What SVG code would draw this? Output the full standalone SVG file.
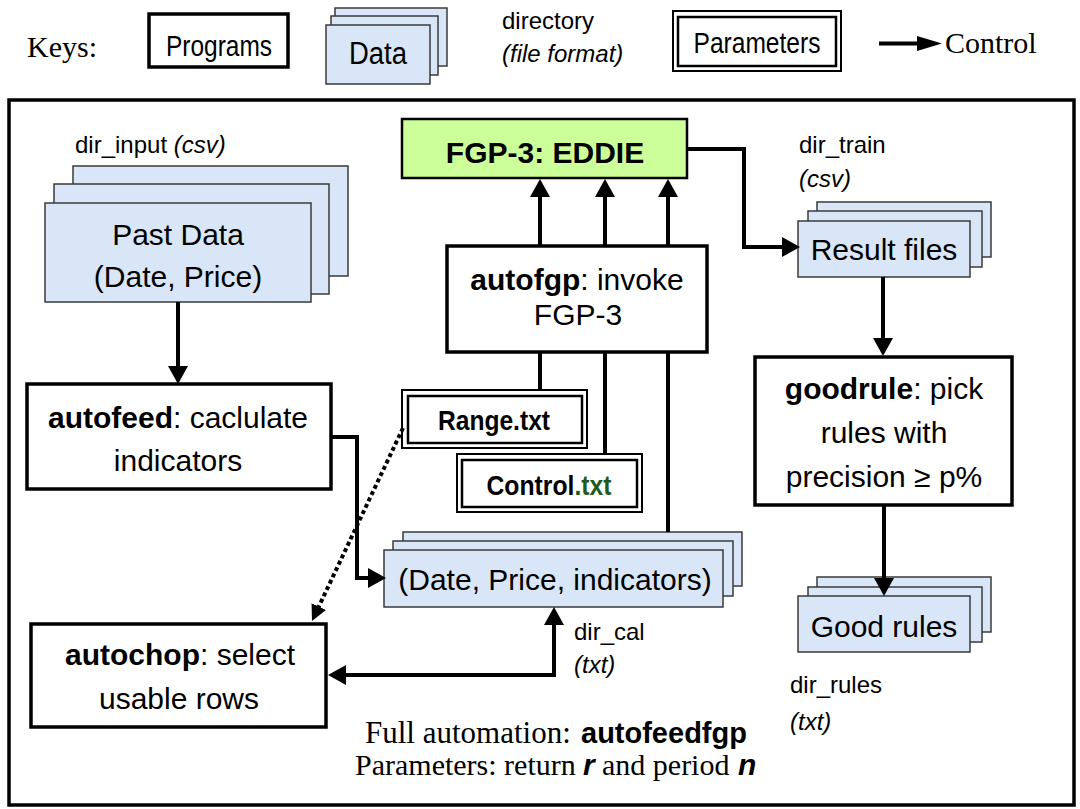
<svg xmlns="http://www.w3.org/2000/svg" width="1080" height="809" viewBox="0 0 1080 809">
<style>
  .sans { font-family: "Liberation Sans", Arial, sans-serif; }
  .serif { font-family: "Liberation Serif", "Times New Roman", serif; }
  .prog { fill: #ffffff; stroke: #000000; stroke-width: 3.5; }
  .data { fill: #d8e6f7; stroke: #3a3a3a; stroke-width: 1.5; }
  .pout { fill: #ffffff; stroke: #000000; stroke-width: 2; }
  .pin { fill: none; stroke: #000000; stroke-width: 2.5; }
  .conn { fill: none; stroke: #000000; stroke-width: 4; }
  .dot { fill: none; stroke: #000000; stroke-width: 4; stroke-dasharray: 4 3; }
  .lbl { font-size: 30px; fill: #000000; }
  .dir { font-size: 24px; fill: #000000; }
  .b { font-weight: bold; }
  .i { font-style: italic; }
</style>
<defs>
  <marker id="ah" viewBox="0 0 18 20" refX="8" refY="10" markerWidth="18" markerHeight="20" markerUnits="userSpaceOnUse" orient="auto-start-reverse">
    <path d="M0,0 L18,10 L0,20 Z" fill="#000000"/>
  </marker>
  <marker id="ahs" viewBox="0 0 16 16" refX="8" refY="8" markerWidth="16" markerHeight="16" markerUnits="userSpaceOnUse" orient="auto">
    <path d="M0,0 L16,8 L0,16 Z" fill="#000000"/>
  </marker>
</defs>
<rect width="1080" height="809" fill="#ffffff"/>

<g id="keys">
  <text class="serif" x="27" y="57" font-size="30">Keys:</text>
  <rect class="prog" x="149" y="14" width="139" height="53"/>
  <text class="sans lbl" x="219" y="56" text-anchor="middle" textLength="106" lengthAdjust="spacingAndGlyphs">Programs</text>
  <rect class="data" x="335" y="8" width="112" height="58"/>
  <rect class="data" x="331" y="16" width="107" height="59"/>
  <rect class="data" x="326" y="25" width="104" height="59"/>
  <text class="sans" x="378" y="64" font-size="31" text-anchor="middle" textLength="58" lengthAdjust="spacingAndGlyphs">Data</text>
  <text class="sans dir" x="502" y="29">directory</text>
  <text class="sans dir i" x="502" y="62">(file format)</text>
  <rect class="pout" x="673" y="11" width="168" height="60"/>
  <rect class="pin" x="678" y="17" width="158" height="49"/>
  <text class="sans lbl" x="757" y="53" text-anchor="middle" textLength="127" lengthAdjust="spacingAndGlyphs">Parameters</text>
  <line x1="879" y1="43.5" x2="920" y2="43.5" stroke="#000000" stroke-width="4"/>
  <polygon points="917,36 942,43.5 917,51" fill="#000000"/>
  <text class="serif" x="945" y="53" font-size="30">Control</text>
</g>

<rect id="frame" x="9" y="100" width="1065" height="705" fill="none" stroke="#000000" stroke-width="3.5"/>

<g id="past-data">
  <text class="sans dir" x="75" y="153" font-size="25">dir_input <tspan class="i">(csv)</tspan></text>
  <rect class="data" x="73" y="166" width="275" height="110"/>
  <rect class="data" x="54" y="184" width="275" height="110"/>
  <rect class="data" x="45" y="203" width="266" height="99"/>
  <text class="sans lbl" x="178" y="245" text-anchor="middle">Past Data</text>
  <text class="sans lbl" x="178" y="287" text-anchor="middle">(Date, Price)</text>
</g>

<g id="autofeed">
  <rect class="prog" x="27" y="384" width="304" height="105"/>
  <text class="sans lbl" x="178" y="428" text-anchor="middle"><tspan class="b">autofeed</tspan>: caclulate</text>
  <text class="sans lbl" x="178" y="471" text-anchor="middle">indicators</text>
</g>

<g id="autochop">
  <rect class="prog" x="31" y="624" width="295" height="103" stroke-width="2.5"/>
  <text class="sans lbl" x="180" y="665" text-anchor="middle"><tspan class="b">autochop</tspan>: select</text>
  <text class="sans lbl" x="179" y="709" text-anchor="middle">usable rows</text>
</g>

<g id="eddie">
  <rect x="402" y="119" width="285" height="59" fill="#ccff99" stroke="#000000" stroke-width="2.5"/>
  <text class="sans lbl b" x="545" y="163" text-anchor="middle">FGP-3: EDDIE</text>
</g>

<g id="autofgp">
  <rect class="prog" x="447" y="246" width="260" height="106"/>
  <text class="sans lbl" x="577" y="290" text-anchor="middle"><tspan class="b">autofgp</tspan>: invoke</text>
  <text class="sans lbl" x="578" y="325" text-anchor="middle">FGP-3</text>
</g>

<g id="range">
  <rect class="pout" x="402" y="390" width="185" height="58"/>
  <rect class="pin" x="408" y="396" width="174" height="47"/>
  <text class="sans b" x="494" y="430" font-size="28" text-anchor="middle" textLength="112" lengthAdjust="spacingAndGlyphs">Range.txt</text>
</g>

<g id="control">
  <rect class="pout" x="457" y="454" width="185" height="58"/>
  <rect class="pin" x="462" y="460" width="175" height="47"/>
  <text class="sans b" x="549" y="495" font-size="28" text-anchor="middle" textLength="125" lengthAdjust="spacingAndGlyphs">Control<tspan fill="#1f5a1f">.txt</tspan></text>
</g>

<g id="dir-cal">
  <rect class="data" x="403" y="532" width="339" height="54"/>
  <rect class="data" x="393" y="541" width="340" height="55"/>
  <rect class="data" x="384" y="550" width="339" height="57"/>
  <text class="sans lbl" x="555" y="590" text-anchor="middle">(Date, Price, indicators)</text>
  <text class="sans dir" x="574" y="640">dir_cal</text>
  <text class="sans dir i" x="574" y="673">(txt)</text>
</g>

<g id="result-files">
  <text class="sans dir" x="799" y="153">dir_train</text>
  <text class="sans dir i" x="799" y="187">(csv)</text>
  <rect class="data" x="817" y="202" width="174" height="55"/>
  <rect class="data" x="808" y="211" width="174" height="56"/>
  <rect class="data" x="798" y="221" width="172" height="56"/>
  <text class="sans lbl" x="884" y="260" text-anchor="middle">Result files</text>
</g>

<g id="goodrule">
  <rect class="prog" x="755" y="357" width="257" height="148" stroke-width="3"/>
  <text class="sans lbl" x="884" y="399" text-anchor="middle"><tspan class="b">goodrule</tspan>: pick</text>
  <text class="sans lbl" x="884" y="443" text-anchor="middle">rules with</text>
  <text class="sans lbl" x="884" y="487" text-anchor="middle">precision ≥ p%</text>
</g>

<g id="good-rules">
  <rect class="data" x="817" y="577" width="174" height="55"/>
  <rect class="data" x="808" y="587" width="174" height="55"/>
  <rect class="data" x="798" y="596" width="172" height="56"/>
  <text class="sans lbl" x="884" y="637" text-anchor="middle">Good rules</text>
  <text class="sans dir" x="790" y="693">dir_rules</text>
  <text class="sans dir i" x="790" y="730">(txt)</text>
</g>

<g id="connectors">
  <path class="conn" d="M178,302 V374" marker-end="url(#ah)"/>
  <path class="conn" d="M331,437 H357 V578 H376" marker-end="url(#ah)"/>
  <path class="conn" d="M540,246 V189" marker-end="url(#ah)"/>
  <path class="conn" d="M605,246 V189" marker-end="url(#ah)"/>
  <path class="conn" d="M668,246 V189" marker-end="url(#ah)"/>
  <path class="conn" d="M687,149 H744 V247 H790" marker-end="url(#ah)"/>
  <path class="conn" d="M883,277 V346" marker-end="url(#ah)"/>
  <path class="conn" d="M884,505 V586" marker-end="url(#ah)"/>
  <path class="conn" d="M540,352 V390"/>
  <path class="conn" d="M605,352 V454"/>
  <path class="conn" d="M668,352 V532"/>
  <path class="conn" d="M338,675 H554 V617" marker-start="url(#ah)" marker-end="url(#ah)"/>
  <path class="dot" d="M403,428 L315.4,613.8" marker-end="url(#ahs)"/>
</g>

<g id="footer">
  <text class="serif" x="365" y="743" font-size="31">Full automation:</text>
  <text class="sans b" x="581" y="743" font-size="29">autofeedfgp</text>
  <text class="serif" x="355" y="775" font-size="30">Parameters: return</text>
  <text class="sans b i" x="583" y="775" font-size="30">r</text>
  <text class="serif" x="602" y="775" font-size="30">and period</text>
  <text class="sans b i" x="738" y="775" font-size="30">n</text>
</g>
</svg>
